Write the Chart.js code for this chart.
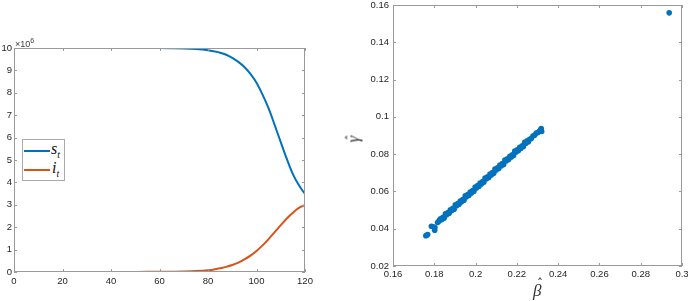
<!DOCTYPE html>
<html>
<head>
<meta charset="utf-8">
<script src="https://cdn.jsdelivr.net/npm/chart.js@4/dist/chart.umd.min.js"></script>
<style>
  html,body{margin:0;padding:0;background:#fff;width:690px;height:301px;overflow:hidden;font-family:"DejaVu Sans",sans-serif;}
  .wrap{position:absolute;top:0;height:301px;}
  .ov{position:absolute;color:#262626;white-space:nowrap;}
  .math{font-family:"Liberation Serif","DejaVu Serif",serif;font-style:italic;}
  .hat{position:absolute;font-style:normal;font-family:"DejaVu Sans",sans-serif;line-height:12px;}
</style>
</head>
<body>
<div class="wrap" style="left:0;width:320px;"><canvas id="c1" width="320" height="301"></canvas></div>
<div class="wrap" style="left:330px;width:360px;"><canvas id="c2" width="360" height="301"></canvas></div>

<div class="ov" style="left:15px;top:37px;font-size:9px;color:#404040;font-family:'Liberation Sans',sans-serif;">×10<sup style="font-size:7px;">6</sup></div>

<div class="ov" style="left:22px;top:139px;width:41px;height:40px;border:1px solid #aaa;background:#fff;"></div>
<div class="ov" style="left:24px;top:150px;width:26px;height:2px;background:#0072BD;"></div>
<div class="ov" style="left:24px;top:169px;width:26px;height:2px;background:#D95319;"></div>
<div class="ov math" style="left:51px;top:140px;font-size:16px;color:#111;">s<sub style="font-size:10px;">t</sub></div>
<div class="ov math" style="left:52px;top:159px;font-size:16px;color:#111;">i<sub style="font-size:10px;">t</sub></div>

<div class="ov math" style="left:533px;top:282px;width:12px;height:17px;font-size:17px;line-height:17px;color:#333;">β<span class="hat" style="left:4px;top:-4px;font-size:12px;">ˆ</span></div>
<div class="ov math" style="left:347px;top:128px;width:12px;height:17px;font-size:17px;line-height:17px;color:#333;transform:rotate(-90deg);transform-origin:center;">γ<span class="hat" style="left:2px;top:1px;font-size:12px;">ˆ</span></div>

<script>
// ---- Left panel data (values in millions) ----
const days    = [0,5,10,15,20,25,30,35,40,45,50,55,60,65,70,75,80,82.5,85,87.5,90,92.5,95,97.5,100,102.5,105,107.5,110,112.5,115,117.5,120];
const sValues = [10,10,10,10,10,10,10,10,10,10,10,9.999,9.997,9.992,9.982,9.955,9.9,9.85,9.79,9.7,9.56,9.38,9.15,8.84,8.45,7.92,7.3,6.56,5.8,5.05,4.37,3.87,3.48];
const iValues = [0,0,0,0,0,0,0,0.001,0.002,0.003,0.004,0.006,0.009,0.014,0.022,0.04,0.08,0.115,0.17,0.23,0.31,0.42,0.56,0.73,0.94,1.19,1.47,1.78,2.09,2.39,2.65,2.86,2.99];
const leftXTicks = [0,20,40,60,80,100,120];
const leftYTicks = [0,1,2,3,4,5,6,7,8,9,10];

// ---- Right panel data ----
const betaHat = [
 0.1759,0.1763,0.1768,0.1786,0.1795,0.1803,0.1802,0.1816,0.1822,0.1826,
 0.1830,0.1836,0.1842,0.1848,0.1854,0.1860,0.1866,0.1872,0.1878,0.1884,
 0.1890,0.1896,0.1902,0.1908,0.1914,0.1920,0.1926,0.1932,0.1938,0.1944,
 0.1950,0.1956,0.1962,0.1968,0.1974,0.1980,0.1986,0.1992,0.1998,0.2004,
 0.2010,0.2016,0.2022,0.2028,0.2034,0.2040,0.2046,0.2052,0.2058,0.2064,
 0.2070,0.2076,0.2082,0.2088,0.2094,0.2100,0.2106,0.2112,0.2118,0.2124,
 0.2130,0.2136,0.2142,0.2148,0.2154,0.2160,0.2166,0.2172,0.2178,0.2184,
 0.2190,0.2196,0.2202,0.2208,0.2214,0.2220,0.2226,0.2232,0.2238,0.2244,
 0.2250,0.2256,0.2262,0.2270,0.2278,0.2286,0.2294,0.2302,0.2310,0.2316,
 0.2318,0.2320,0.2938];
const gammaHat = [
 0.0362,0.0365,0.0369,0.0413,0.0410,0.0406,0.0392,0.0433,0.0440,0.0447,
 0.0453,0.0448,0.0461,0.0457,0.0480,0.0475,0.0487,0.0483,0.0501,0.0496,
 0.0509,0.0505,0.0528,0.0523,0.0535,0.0531,0.0549,0.0544,0.0557,0.0553,
 0.0576,0.0571,0.0583,0.0579,0.0597,0.0592,0.0605,0.0601,0.0624,0.0619,
 0.0631,0.0627,0.0645,0.0640,0.0653,0.0649,0.0672,0.0667,0.0679,0.0675,
 0.0693,0.0688,0.0701,0.0697,0.0720,0.0715,0.0727,0.0723,0.0741,0.0736,
 0.0749,0.0745,0.0768,0.0763,0.0775,0.0771,0.0789,0.0784,0.0797,0.0793,
 0.0816,0.0811,0.0823,0.0819,0.0837,0.0832,0.0845,0.0841,0.0864,0.0859,
 0.0871,0.0867,0.0880,0.0884,0.0897,0.0901,0.0913,0.0916,0.0924,0.0931,
 0.0937,0.0922,0.1558];
const rightXTicks = [0.16,0.18,0.2,0.22,0.24,0.26,0.28,0.3];
const rightYTicks = [0.02,0.04,0.06,0.08,0.1,0.12,0.14,0.16];

const BLUE = '#0072BD', ORANGE = '#D95319';
const LABEL_FONT = '9.5px "Liberation Sans", Arial, sans-serif';
const LABEL_COLOR = '#262626';

function fmt(v){ return String(Number(Number(v).toFixed(3))); }

// MATLAB-style box, inward ticks and tick labels, placed through the chart's scales
function axesPlugin(xLabelGap, yLabelGap){
  return {
    id:'matlabAxes',
    afterDraw(chart){
      const {ctx, chartArea:a, scales} = chart;
      ctx.save();
      ctx.strokeStyle = '#9a9a9a';
      ctx.lineWidth = 1;
      ctx.strokeRect(Math.round(a.left)+0.5, Math.round(a.top)+0.5, Math.round(a.right-a.left)-1, Math.round(a.bottom-a.top)-1);
      const L = 3;
      ctx.beginPath();
      scales.x.ticks.forEach(t=>{
        const px = Math.round(scales.x.getPixelForValue(t.value))+0.5;
        ctx.moveTo(px,a.bottom); ctx.lineTo(px,a.bottom-L);
        ctx.moveTo(px,a.top); ctx.lineTo(px,a.top+L);
      });
      scales.y.ticks.forEach(t=>{
        const py = Math.round(scales.y.getPixelForValue(t.value))+0.5;
        ctx.moveTo(a.left,py); ctx.lineTo(a.left+L,py);
        ctx.moveTo(a.right,py); ctx.lineTo(a.right-L,py);
      });
      ctx.stroke();
      ctx.fillStyle = LABEL_COLOR;
      ctx.font = LABEL_FONT;
      ctx.textAlign = 'center'; ctx.textBaseline = 'middle';
      scales.x.ticks.forEach(t=>{
        ctx.fillText(fmt(t.value), scales.x.getPixelForValue(t.value), a.bottom + xLabelGap);
      });
      ctx.textAlign = 'right';
      scales.y.ticks.forEach(t=>{
        ctx.fillText(fmt(t.value), a.left - yLabelGap, scales.y.getPixelForValue(t.value));
      });
      ctx.restore();
    }
  };
}
function fixedTicks(list){
  return function(scale){ scale.ticks = list.map(v=>({value:v})); };
}

// ---- Left chart ----
new Chart(document.getElementById('c1'), {
  type:'line',
  data:{
    datasets:[
      {label:'s_t', data:days.map((d,k)=>({x:d,y:sValues[k]})), borderColor:BLUE, borderWidth:2, pointRadius:0, cubicInterpolationMode:'monotone', fill:false},
      {label:'i_t', data:days.map((d,k)=>({x:d,y:iValues[k]})), borderColor:ORANGE, borderWidth:2, pointRadius:0, cubicInterpolationMode:'monotone', fill:false}
    ]
  },
  options:{
    responsive:false, animation:false, devicePixelRatio:1,
    layout:{padding:{top:48,right:15,left:0,bottom:0}},
    plugins:{legend:{display:false}, tooltip:{enabled:false}},
    scales:{
      x:{type:'linear', min:0, max:120, afterBuildTicks:fixedTicks(leftXTicks),
         grid:{display:false}, border:{display:false}, ticks:{display:false},
         afterFit(s){s.height=29;}},
      y:{type:'linear', min:0, max:10, afterBuildTicks:fixedTicks(leftYTicks),
         grid:{display:false}, border:{display:false}, ticks:{display:false},
         afterFit(s){s.width=14;}}
    }
  },
  plugins:[axesPlugin(9, 2)]
});

// ---- Right chart ----
new Chart(document.getElementById('c2'), {
  type:'scatter',
  data:{
    datasets:[
      {data:betaHat.map((b,k)=>({x:b,y:gammaHat[k]})), backgroundColor:BLUE, borderColor:BLUE, borderWidth:0, pointRadius:2.8, pointHoverRadius:2.8}
    ]
  },
  options:{
    responsive:false, animation:false, devicePixelRatio:1,
    layout:{padding:{top:5,right:8,left:0,bottom:0}},
    plugins:{legend:{display:false}, tooltip:{enabled:false}},
    scales:{
      x:{type:'linear', min:0.16, max:0.3, afterBuildTicks:fixedTicks(rightXTicks),
         grid:{display:false}, border:{display:false}, ticks:{display:false},
         afterFit(s){s.height=35;}},
      y:{type:'linear', min:0.02, max:0.16, afterBuildTicks:fixedTicks(rightYTicks),
         grid:{display:false}, border:{display:false}, ticks:{display:false},
         afterFit(s){s.width=63;}}
    }
  },
  plugins:[axesPlugin(8, 4)]
});
</script>
</body>
</html>
